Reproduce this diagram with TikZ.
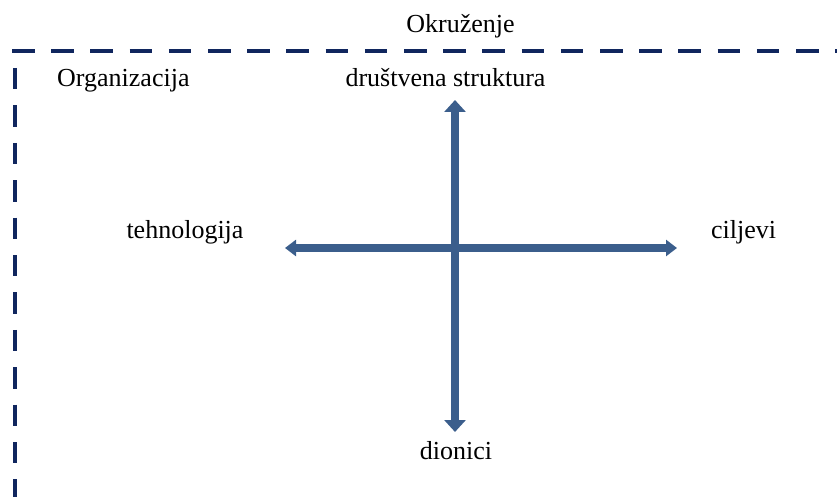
\documentclass[tikz,border=0pt]{standalone}
\usepackage{fontspec}
\setmainfont{Liberation Serif}
\usetikzlibrary{arrows.meta}
\definecolor{envColor}{RGB}{16,38,94}
\definecolor{arrColor}{RGB}{59,94,140}

\begin{document}
\begin{tikzpicture}[x=1pt,y=-1pt,font=\fontsize{26}{31}\selectfont]
    \useasboundingbox (0,0) rectangle (837,497);

    % okruzenje (granica)
    \draw[envColor,line width=4pt,dash pattern=on 22.5pt off 16.7pt] (12,51) -- (837,51);
    \draw[envColor,line width=4pt,dash pattern=on 21.4pt off 16pt] (15,68) -- (15,497);

    \node[anchor=base] (okr) at (460.5,33) {Okruženje};
    \node[anchor=base west,inner sep=0pt] (org) at (57,87) {Organizacija};

    \node[anchor=base] (str) at (445.5,87) {društvena struktura};
    \node[anchor=base] (teh) at (185,238) {tehnologija};
    \node[anchor=base] (cilj) at (743.5,238) {ciljevi};
    \node[anchor=base] (dio) at (456,459) {dionici};

    \coordinate (top) at (455,100);
    \coordinate (bot) at (455,432);
    \coordinate (lft) at (285,248);
    \coordinate (rgt) at (677,248);

    \draw[arrColor,line width=8pt,{Triangle[width=21pt,length=12pt]}-{Triangle[width=21pt,length=12pt]}] (top) -- (bot);
    \draw[arrColor,line width=8pt,{Triangle[width=16pt,length=11pt]}-{Triangle[width=16pt,length=11pt]}] (lft) -- (rgt);
\end{tikzpicture}
\end{document}
